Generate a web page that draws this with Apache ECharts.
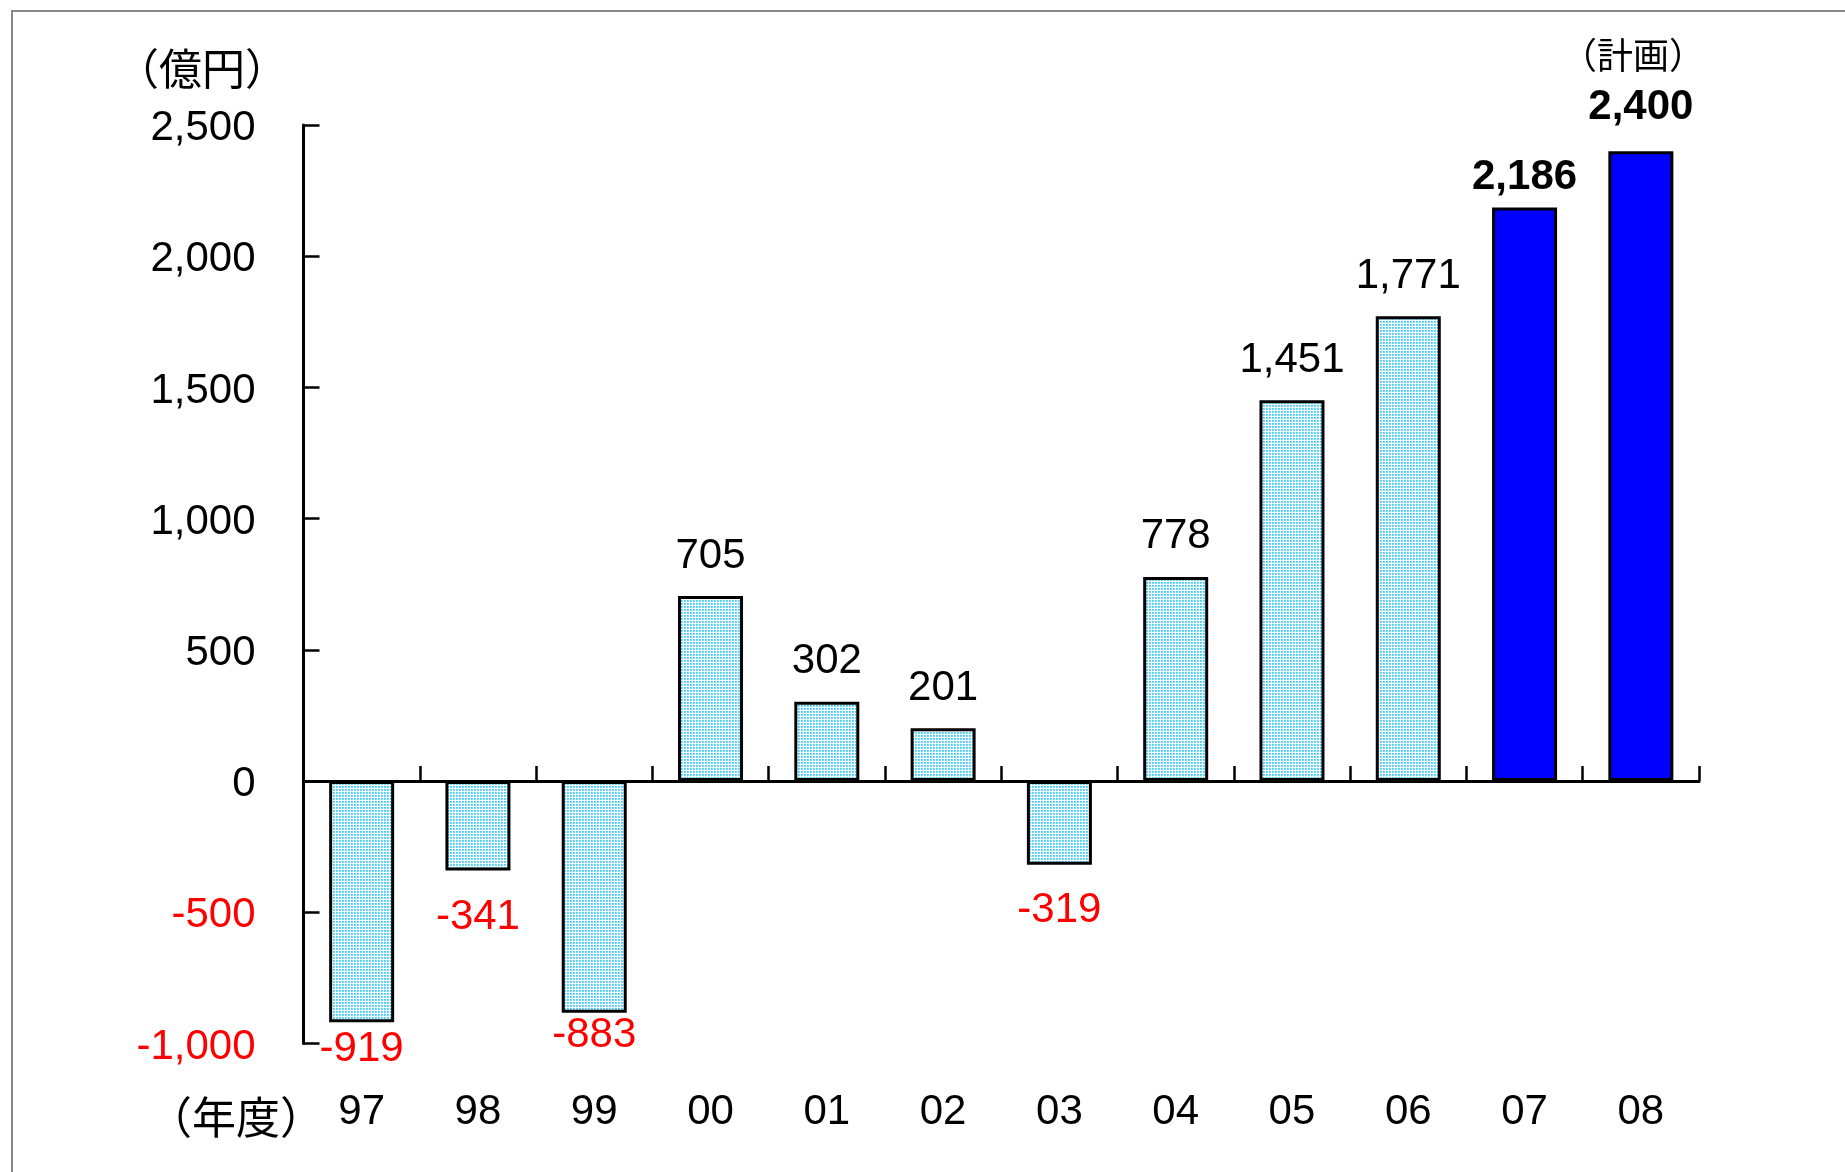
<!DOCTYPE html>
<html lang="ja">
<head>
<meta charset="UTF-8" />
<title>経常利益の推移</title>
<script src="https://cdn.jsdelivr.net/npm/echarts@6/dist/echarts.min.js"></script>
<style type="text/css">
html,body{margin:0;padding:0;background:#fff;}
#main{width:1845px;height:1172px;}
</style>
</head>
<body>
<div id="main"></div>
<script type="text/javascript">
// 年度と金額（億円）
var years = ['97','98','99','00','01','02','03','04','05','06','07','08'];
var values = [-919,-341,-883,705,302,201,-319,778,1451,1771,2186,2400];
var yTicks = [-1000,-500,0,500,1000,1500,2000,2500];
var solidFrom = 10; // 07・08 は青塗り・太字
// ラベルの微調整（棒の端からの距離）
var labelDist = [6,26,2,19,19,19,25,19,19,19,9,23];

var latin = '"Liberation Sans", Arial, sans-serif';
var cjk = '"Noto Sans CJK JP", sans-serif';

function fmt(v){
    return String(v).replace(/\B(?=(\d{3})+(?!\d))/g, ',');
}

// 網点パターン
var tile = document.createElement('canvas');
tile.width = 3; tile.height = 3;
var ctx = tile.getContext('2d');
ctx.fillStyle = '#f4fcff';
ctx.fillRect(0,0,3,3);
ctx.fillStyle = '#74d8fa';
ctx.fillRect(0,0,2,2);
ctx.fillStyle = '#38c6f6';
ctx.fillRect(0,0,1,1);
var dotPattern = {image: tile, repeat: 'repeat'};

var barData = values.map(function(v, i){
    var solid = i >= solidFrom;
    return {
        value: v,
        itemStyle: {color: solid ? '#0000ff' : dotPattern},
        label: {
            distance: labelDist[i],
            color: v < 0 ? '#ff0000' : '#000000',
            fontWeight: solid ? 'bold' : 'normal'
        }
    };
});

var myChart = echarts.init(document.getElementById('main'));
myChart.setOption({
    animation: false,
    backgroundColor: '#ffffff',
    grid: {left: 303.5, right: 146, top: 125, bottom: 128.5},
    xAxis: [
        {
            type: 'category',
            data: years,
            position: 'bottom',
            axisLine: {onZero: true, lineStyle: {color: '#000', width: 3}},
            axisTick: {show: true, interval: 0, inside: true, length: 15, lineStyle: {color: '#000', width: 2.5}},
            axisLabel: {show: false, interval: 0}
        },
        {
            type: 'category',
            data: years,
            position: 'bottom',
            axisLine: {show: false, onZero: false},
            axisTick: {show: false},
            axisLabel: {margin: 48, fontSize: 42, color: '#000', fontFamily: latin}
        }
    ],
    yAxis: {
        type: 'value',
        min: yTicks[0],
        max: yTicks[yTicks.length - 1],
        interval: 500,
        axisLine: {show: true, lineStyle: {color: '#000', width: 3}},
        axisTick: {show: true, inside: true, length: 16, lineStyle: {color: '#000', width: 2.5}},
        splitLine: {show: false},
        axisLabel: {
            margin: 48,
            formatter: function(v){ return (v < 0 ? '{neg|' : '{pos|') + fmt(v) + '}'; },
            rich: {
                pos: {fontSize: 42, fontFamily: latin, color: '#000000', padding: [7, 0, 0, 0]},
                neg: {fontSize: 42, fontFamily: latin, color: '#ff0000', padding: [7, 0, 0, 0]}
            }
        }
    },
    series: [{
        type: 'bar',
        xAxisIndex: 0,
        barWidth: 65,
        data: barData,
        itemStyle: {borderColor: '#000', borderWidth: 3},
        label: {
            show: true,
            position: 'outside',
            fontSize: 42,
            fontFamily: latin,
            formatter: function(p){ return fmt(p.value); }
        }
    }],
    graphic: [
        {
            type: 'polyline',
            shape: {points: [[12,1172],[12,11],[1845,11]]},
            style: {stroke: '#888888', lineWidth: 2, fill: null}
        },
        {
            type: 'text', x: 202, y: 69,
            style: {text: '（億円）', font: '43px ' + cjk, fill: '#000', align: 'center', verticalAlign: 'middle'}
        },
        {
            type: 'text', x: 236, y: 1117,
            style: {text: '（年度）', font: '44px ' + cjk, fill: '#000', align: 'center', verticalAlign: 'middle'}
        },
        {
            type: 'text', x: 1633, y: 55,
            style: {text: '（計画）', font: '36px ' + cjk, fill: '#000', align: 'center', verticalAlign: 'middle'}
        }
    ]
});
</script>
</body>
</html>
